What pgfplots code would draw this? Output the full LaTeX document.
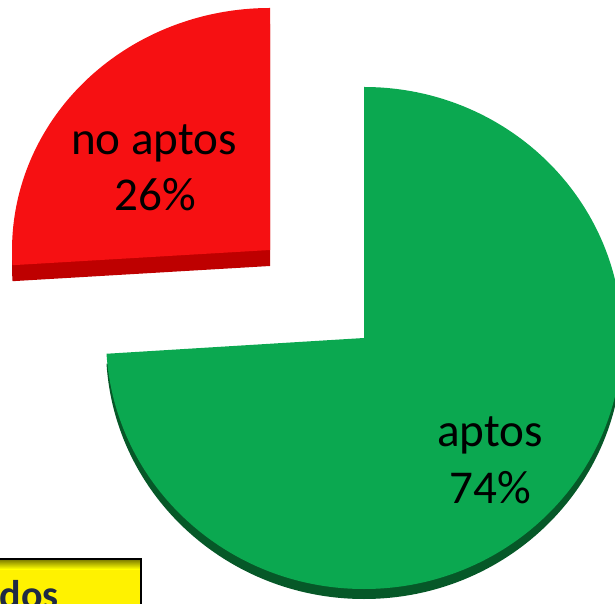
\documentclass[border=0pt]{standalone}
\usepackage{fontspec}
\setmainfont{Carlito}
\usepackage{pgfplots}
\usepackage{pgfplotstable}
\pgfplotsset{compat=1.18}

\definecolor{redface}{RGB}{246,16,18}
\definecolor{redrim}{RGB}{190,0,0}
\definecolor{greenface}{RGB}{11,168,80}
\definecolor{greenrim}{RGB}{6,88,40}
\definecolor{navytext}{RGB}{31,42,68}
\definecolor{olivetop}{RGB}{120,120,0}

\pgfplotstableread{
label value
aptos 74
noaptos 26
}\piedata
\pgfplotstablegetelem{0}{value}\of\piedata \let\valA\pgfplotsretval
\pgfplotstablegetelem{1}{value}\of\piedata \let\valB\pgfplotsretval
\pgfmathsetmacro\angA{90-3.6*\valA}
\pgfmathsetmacro\angB{\angA+360}

\begin{document}
\begin{tikzpicture}
\begin{axis}[
  width=6.15cm, height=6.03cm, scale only axis,
  xmin=0, xmax=615, ymin=0, ymax=603,
  hide axis, clip=true,
]
% green slice (aptos): rim then face
\fill[greenrim] ([yshift=-0.10cm]axis cs:364,265) -- ++(0,2.51cm)
  arc[start angle=90, end angle=\angA, x radius=2.58cm, y radius=2.51cm] -- cycle;
\fill[greenface] (axis cs:364,265) -- ++(0,2.51cm)
  arc[start angle=90, end angle=\angA, x radius=2.58cm, y radius=2.51cm] -- cycle;
% red slice (no aptos), exploded
\fill[redrim] ([yshift=-0.16cm]axis cs:270,353) -- ++(0,2.42cm)
  arc[start angle=90, end angle=\angB, x radius=2.58cm, y radius=2.42cm] -- cycle;
\fill[redface] (axis cs:270,353) -- ++(0,2.42cm)
  arc[start angle=90, end angle=\angB, x radius=2.58cm, y radius=2.42cm] -- cycle;
% labels
\node[anchor=base, font=\fontsize{13.4}{16}\selectfont] at (axis cs:154,448) {no aptos};
\node[anchor=base, font=\fontsize{13.4}{16}\selectfont] at (axis cs:155,392) {26\%};
\node[anchor=base, font=\fontsize{13.4}{16}\selectfont] at (axis cs:490,156) {aptos};
\node[anchor=base, font=\fontsize{13.4}{16}\selectfont] at (axis cs:490,100) {74\%};
% yellow box, cut at the bottom edge
\fill[yellow] (axis cs:-5,-10) rectangle (axis cs:141,44);
\shade[top color=olivetop, bottom color=yellow] (axis cs:-5,34) rectangle (axis cs:141,44);
\draw[black, line width=0.7pt] (axis cs:-5,-10) rectangle (axis cs:141,44);
\node[anchor=base west, inner sep=0pt, text=navytext, font=\bfseries\fontsize{11.4}{13}\selectfont] at (axis cs:-1,-5) {dos};
\end{axis}
\pgfresetboundingbox
\path (current axis.south west) rectangle (current axis.north east);
\end{tikzpicture}
\end{document}
